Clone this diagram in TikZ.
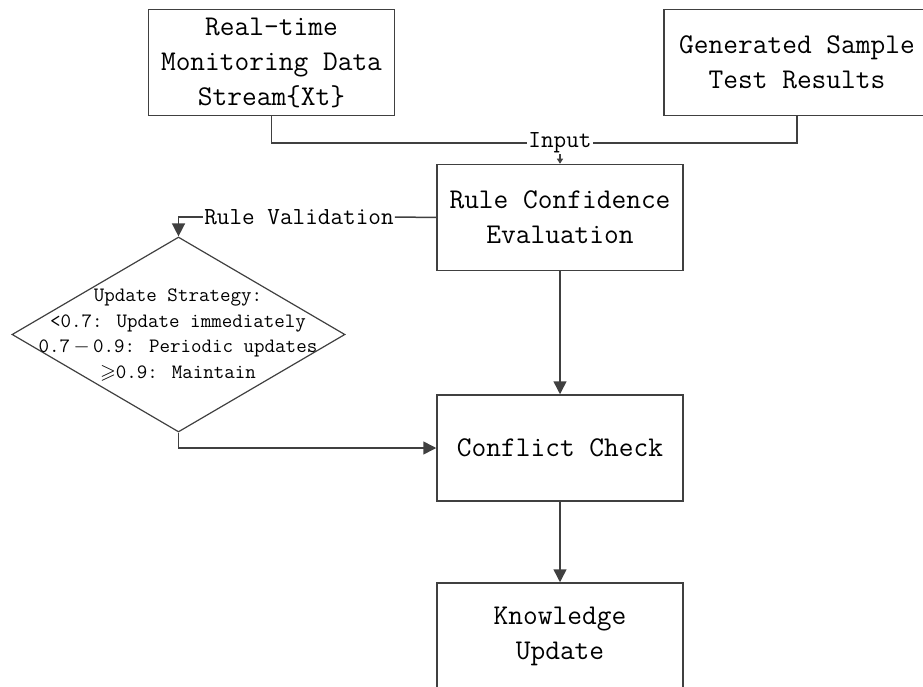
\documentclass[tikz,border=0pt]{standalone}
\usepackage{amssymb}
\usetikzlibrary{arrows.meta,shapes.geometric}
\definecolor{linegray}{RGB}{64,64,64}
\begin{document}
\begin{tikzpicture}[x=1pt,y=-1pt,
  box/.style={draw=linegray, line width=1.5pt, fill=white, minimum width=246pt, minimum height=106pt,
    align=center, inner sep=0pt, font=\ttfamily\fontsize{28.6}{35}\selectfont},
  lbl/.style={fill=white, inner sep=1pt, font=\ttfamily\fontsize{24.5}{28}\selectfont},
  conn/.style={draw=linegray, line width=1.5pt},
  arr/.style={conn, -{Triangle[length=13pt,width=13pt]}},
  arrsmall/.style={conn, -{Triangle[length=5pt,width=6pt]}}]
\useasboundingbox (0,0) rectangle (923,687);
\clip (0,0) rectangle (923,687);

\node[box] (A) at (271.5,62.5) {Real-time\\Monitoring Data\\Stream\{Xt\}};
\node[box, minimum width=266pt] (B) at (797,62.5) {Generated Sample\\Test Results};
\node[box] (C) at (560,217.5) {Rule Confidence\\Evaluation};
\node[box] (D) at (560,448) {Conflict Check};
\node[box] (E) at (560,636) {Knowledge\\Update};

\node[draw=linegray, line width=1.2pt, diamond, minimum width=333pt, minimum height=195pt, inner sep=0pt] (dia) at (178.5,334.5) {};
\node[align=center, inner sep=0pt, font=\ttfamily\fontsize{20.4}{25.5}\selectfont] (diatext) at (178,335)
  {Update Strategy:\\<0.7: Update immediately\\0.7\,$-$\,0.9: Periodic updates\\$\geqslant$0.9: Maintain};

\node[lbl] (inp) at (560,143) {Input};
\node[lbl] (rv) at (299,217) {Rule Validation};

\draw[conn] (A.south) |- (inp.west);
\draw[conn] (B.south) |- (inp.east);
\draw[arrsmall] (inp.south) -- (C.north);
\draw[conn] (C.west) -- (rv.east);
\draw[arr] (rv.west) -| (dia.north);
\draw[arr] (dia.south) |- (D.west);
\draw[arr] (C.south) -- (D.north);
\draw[arr] (D.south) -- (E.north);
\end{tikzpicture}
\end{document}
